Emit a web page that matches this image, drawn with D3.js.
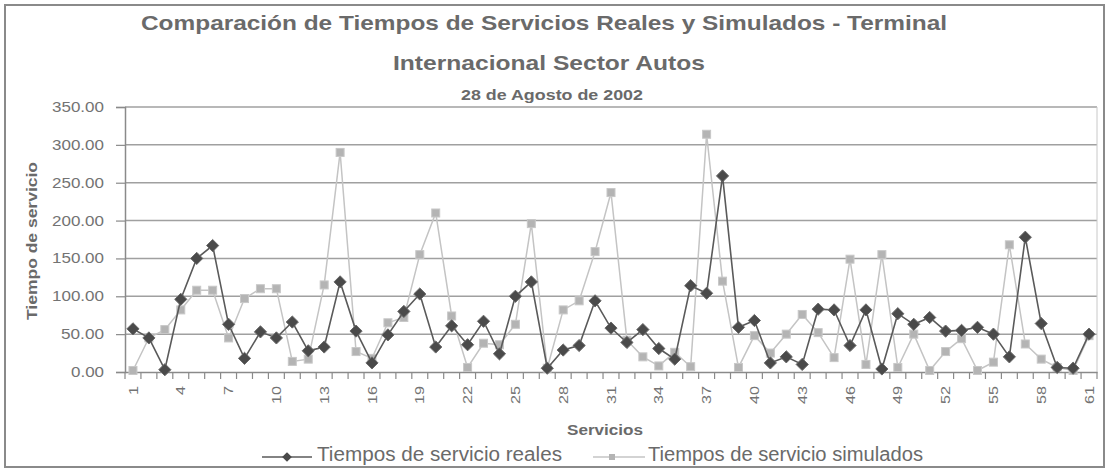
<!DOCTYPE html>
<html>
<head>
<meta charset="utf-8">
<script src="https://cdn.jsdelivr.net/npm/d3@7"></script>
<style>
  html, body { margin: 0; padding: 0; background: #fff; }
  svg { display: block; font-family: "Liberation Sans", Arial, sans-serif; }
</style>
</head>
<body>
<svg id="chart" width="1115" height="470"></svg>
<script>
const categories = d3.range(1, 62);
const reales = [57, 45, 3, 96, 150, 167, 63, 18, 53, 45,
  66, 28, 33, 119, 54, 12, 49, 80, 103, 33,
  61, 36, 67, 24, 100, 119, 5, 29, 35, 94,
  58, 39, 56, 31, 17, 114, 104, 259, 59, 68,
  12, 20, 10, 83, 82, 35, 82, 4, 77, 63,
  72, 54, 55, 59, 50, 20, 178, 64, 6, 5, 50];
const simulados = [2, 45, 56, 82, 108, 108, 45, 97, 110, 110,
  14, 17, 115, 290, 27, 18, 65, 72, 155, 210,
  74, 6, 38, 36, 63, 196, 5, 82, 94, 159,
  237, 42, 20, 8, 26, 7, 314, 120, 6, 48,
  25, 50, 76, 52, 19, 149, 10, 155, 6, 50,
  2, 27, 44, 2, 13, 168, 37, 17, 6, 2, 48];
const yTicks = [0, 50, 100, 150, 200, 250, 300, 350];
const xTickLabels = categories.filter(d => (d - 1) % 3 === 0);
const titleLines = ["Comparación de Tiempos de Servicios Reales y Simulados - Terminal", "Internacional Sector Autos"];
const subtitle = "28 de Agosto de 2002";
const seriesNames = ["Tiempos de servicio reales", "Tiempos de servicio simulados"];

const svg = d3.select("#chart");
const m = { left: 125, right: 1097, top: 107, bottom: 372 };
const txt = "#6a6a6a";

// outer frame
svg.append("rect").attr("x", 5).attr("y", 5).attr("width", 1099).attr("height", 462)
  .attr("fill", "#fff").attr("stroke", "#8a8a8a").attr("stroke-width", 2);

const x = d3.scaleBand().domain(categories).range([m.left, m.right]).padding(0);
const y = d3.scaleLinear().domain([0, 350]).range([m.bottom, m.top]);

// gridlines
svg.append("g").selectAll("line").data(yTicks.filter(d => d > 0)).join("line")
  .attr("x1", m.left).attr("x2", m.right)
  .attr("y1", d => y(d)).attr("y2", d => y(d))
  .attr("stroke", "#a0a0a0").attr("stroke-width", 1.5);
svg.append("line").attr("x1", m.right).attr("x2", m.right).attr("y1", m.top).attr("y2", m.bottom)
  .attr("stroke", "#c8c8c8").attr("stroke-width", 1);

// y axis
const yAxis = d3.axisLeft(y).tickValues(yTicks).tickFormat(d3.format(".2f")).tickSize(9).tickPadding(12);
const gy = svg.append("g").attr("transform", `translate(${m.left},0)`).call(yAxis);
gy.select(".domain").attr("stroke", "#8a8a8a").attr("stroke-width", 1.5);
gy.selectAll(".tick line").attr("stroke", "#8a8a8a").attr("stroke-width", 1.2);
gy.selectAll("text").attr("fill", "#737373").attr("font-size", 14)
  .attr("textLength", function () { const s = this.textContent; return s.length === 6 ? 52 : s.length === 5 ? 43 : 33; })
  .attr("lengthAdjust", "spacingAndGlyphs");

// x axis
const xAxis = d3.axisBottom(x).tickValues(xTickLabels).tickSize(0).tickPadding(6);
const gx = svg.append("g").attr("transform", `translate(0,${m.bottom})`).call(xAxis);
gx.select(".domain").attr("stroke", "#8a8a8a").attr("stroke-width", 1.5);
gx.selectAll("text").attr("fill", "#737373").attr("font-size", 13)
  .attr("text-anchor", "end").attr("transform", "rotate(-90)")
  .attr("x", -14).attr("y", 0).attr("dy", "0.35em")
  .attr("textLength", function () { return this.textContent.length * 9; })
  .attr("lengthAdjust", "spacingAndGlyphs");
svg.append("g").selectAll("line").data(d3.range(0, categories.length + 1)).join("line")
  .attr("x1", i => m.left + i * x.bandwidth()).attr("x2", i => m.left + i * x.bandwidth())
  .attr("y1", m.bottom).attr("y2", m.bottom + 7)
  .attr("stroke", "#8a8a8a").attr("stroke-width", 1.2);

const cx = d => x(d) + x.bandwidth() / 2;
const line = d3.line().x((d, i) => cx(categories[i])).y(d => y(d));

// simulados (light)
svg.append("path").datum(simulados).attr("d", line)
  .attr("fill", "none").attr("stroke", "#c4c4c4").attr("stroke-width", 1.5);
svg.append("g").selectAll("rect").data(simulados).join("rect")
  .attr("x", (d, i) => cx(categories[i]) - 4).attr("y", d => y(d) - 4)
  .attr("width", 8).attr("height", 8)
  .attr("fill", "#b4b4b4").attr("stroke", "#c8c8c8").attr("stroke-width", 1);

// reales (dark)
svg.append("path").datum(reales).attr("d", line)
  .attr("fill", "none").attr("stroke", "#5a5a5a").attr("stroke-width", 1.6);
const diamond = d3.symbol().type(d3.symbolDiamond2).size(95);
svg.append("g").selectAll("path").data(reales).join("path")
  .attr("d", diamond)
  .attr("transform", (d, i) => `translate(${cx(categories[i])},${y(d)})`)
  .attr("fill", "#4a4a4a").attr("stroke", "#6a6a6a").attr("stroke-width", 1);

// titles
svg.append("text").attr("x", 544).attr("y", 30).attr("text-anchor", "middle")
  .attr("font-size", 21).attr("font-weight", "bold").attr("fill", txt)
  .attr("textLength", 806).attr("lengthAdjust", "spacingAndGlyphs").text(titleLines[0]);
svg.append("text").attr("x", 549).attr("y", 70).attr("text-anchor", "middle")
  .attr("font-size", 21).attr("font-weight", "bold").attr("fill", txt)
  .attr("textLength", 312).attr("lengthAdjust", "spacingAndGlyphs").text(titleLines[1]);
svg.append("text").attr("x", 552).attr("y", 100).attr("text-anchor", "middle")
  .attr("font-size", 15).attr("font-weight", "bold").attr("fill", txt)
  .attr("textLength", 182).attr("lengthAdjust", "spacingAndGlyphs").text(subtitle);

// y label
svg.append("text").attr("transform", `translate(37,241) rotate(-90)`)
  .attr("text-anchor", "middle").attr("font-size", 14).attr("font-weight", "bold")
  .attr("fill", txt).attr("textLength", 158).attr("lengthAdjust", "spacingAndGlyphs")
  .text("Tiempo de servicio");

// x label
svg.append("text").attr("x", 605).attr("y", 435).attr("text-anchor", "middle")
  .attr("font-size", 14).attr("font-weight", "bold").attr("fill", txt)
  .attr("textLength", 76).attr("lengthAdjust", "spacingAndGlyphs").text("Servicios");

// legend
const leg = svg.append("g");
const legItems = [
  { x0: 262, x1: 312, mx: 287, tx: 317, tl: 245, name: seriesNames[0], type: "r" },
  { x0: 593, x1: 645, mx: 612, tx: 648, tl: 275, name: seriesNames[1], type: "s" }
];
const ly = 457;
legItems.forEach(it => {
  leg.append("line").attr("x1", it.x0).attr("x2", it.x1).attr("y1", ly).attr("y2", ly)
    .attr("stroke", it.type === "r" ? "#5a5a5a" : "#c4c4c4").attr("stroke-width", 1.5);
  if (it.type === "r") {
    leg.append("path").attr("d", d3.symbol().type(d3.symbolDiamond2).size(60))
      .attr("transform", `translate(${it.mx},${ly})`).attr("fill", "#4a4a4a");
  } else {
    leg.append("rect").attr("x", it.mx - 3).attr("y", ly - 3).attr("width", 6).attr("height", 6)
      .attr("fill", "#b4b4b4");
  }
  leg.append("text").attr("x", it.tx).attr("y", 461).attr("font-size", 20)
    .attr("fill", txt).attr("textLength", it.tl).attr("lengthAdjust", "spacingAndGlyphs").text(it.name);
});
</script>
</body>
</html>
